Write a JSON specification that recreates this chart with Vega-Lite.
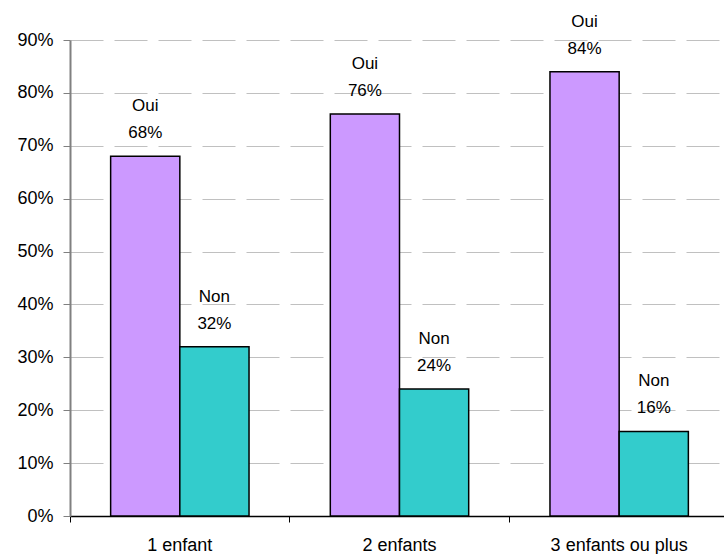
{
  "$schema": "https://vega.github.io/schema/vega-lite/v6.json",
  "autosize": "none",
  "width": 659,
  "height": 476,
  "padding": {"left": 70, "top": 40, "right": 0, "bottom": 38},
  "background": "white",
  "config": {
    "font": "Liberation Sans",
    "view": {"stroke": null}
  },
  "data": {
    "values": [
      {"groupe": "1 enfant", "reponse": "Oui", "part": 0.68, "label": "Oui\n68%"},
      {"groupe": "1 enfant", "reponse": "Non", "part": 0.32, "label": "Non\n32%"},
      {"groupe": "2 enfants", "reponse": "Oui", "part": 0.76, "label": "Oui\n76%"},
      {"groupe": "2 enfants", "reponse": "Non", "part": 0.24, "label": "Non\n24%"},
      {"groupe": "3 enfants ou plus", "reponse": "Oui", "part": 0.84, "label": "Oui\n84%"},
      {"groupe": "3 enfants ou plus", "reponse": "Non", "part": 0.16, "label": "Non\n16%"}
    ]
  },
  "encoding": {
    "x": {
      "field": "groupe",
      "type": "nominal",
      "sort": null,
      "scale": {"paddingInner": 0.37, "paddingOuter": 0.185},
      "axis": {
        "title": null,
        "labelAngle": 0,
        "labelFontSize": 18,
        "labelColor": "#000000",
        "labelPadding": 14,
        "domainColor": "#000000",
        "domainWidth": 1.5,
        "tickColor": "#000000",
        "tickSize": 6,
        "bandPosition": -0.2935,
        "grid": false
      }
    },
    "xOffset": {"field": "reponse", "type": "nominal", "sort": ["Oui", "Non"]},
    "y": {
      "field": "part",
      "type": "quantitative",
      "scale": {"domain": [0, 0.9], "nice": false},
      "axis": {
        "title": null,
        "values": [0, 0.1, 0.2, 0.3, 0.4, 0.5, 0.6, 0.7, 0.8, 0.9],
        "format": ".0%",
        "labelFontSize": 18,
        "labelColor": "#000000",
        "labelPadding": 10,
        "domainColor": "#808080",
        "domainWidth": 2,
        "tickColor": "#808080",
        "tickSize": 7,
        "gridColor": "#c0c0c0",
        "gridDash": [33, 11],
        "gridWidth": 1
      }
    }
  },
  "layer": [
    {
      "mark": {"type": "bar", "stroke": "#000000", "strokeWidth": 1.5},
      "encoding": {
        "color": {
          "field": "reponse",
          "type": "nominal",
          "scale": {"domain": ["Oui", "Non"], "range": ["#CC99FF", "#33CCCC"]},
          "legend": null
        }
      }
    },
    {
      "mark": {
        "type": "text",
        "baseline": "bottom",
        "align": "center",
        "dy": -41,
        "fontSize": 17,
        "lineHeight": 27,
        "lineBreak": "\n",
        "color": "#000000"
      },
      "encoding": {"text": {"field": "label"}}
    }
  ]
}
